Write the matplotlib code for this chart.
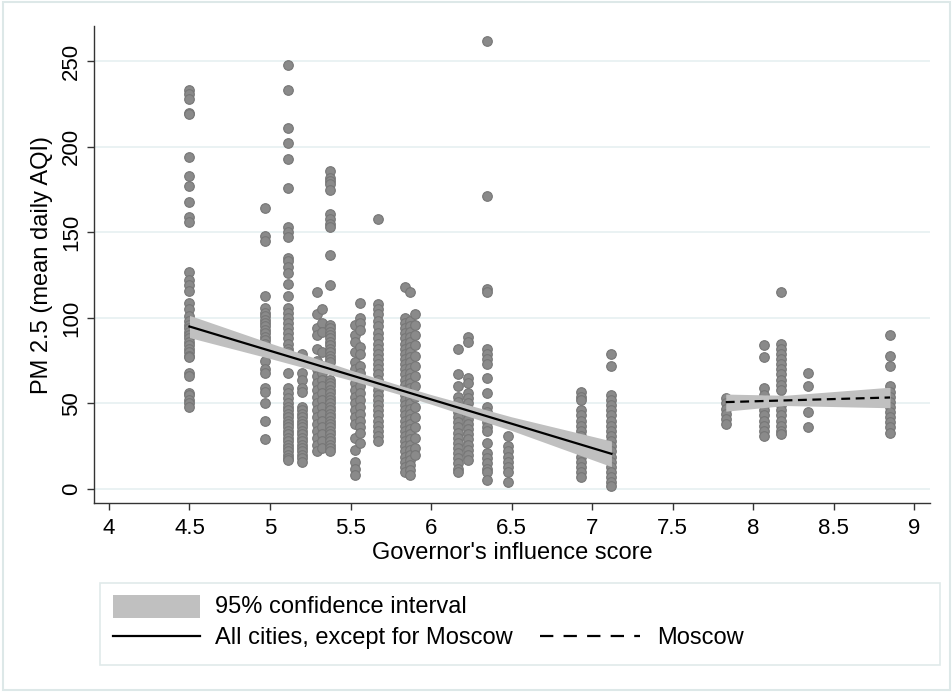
import matplotlib
matplotlib.use("Agg")
import matplotlib.pyplot as plt
from matplotlib.patches import Rectangle
from matplotlib.lines import Line2D
import numpy as np

plt.rcParams['font.family'] = ['Liberation Sans', 'DejaVu Sans']

# score of each city group (x) and PM 2.5 readings (y)
x_cols = [4.50, 4.97, 5.11, 5.20, 5.29, 5.32, 5.37, 5.53, 5.56, 5.67,
          5.84, 5.87, 5.90, 6.17, 6.23, 6.35, 6.48, 6.93, 7.12]
y_450 = [233, 231, 228, 220, 219, 194, 183, 177, 168, 159, 156, 127, 122, 119, 116,
         109, 105, 101, 98, 96, 94, 92, 90, 88, 86, 84, 82, 80, 78, 77, 68, 66, 56, 55, 52, 50, 48]
y_497 = [164, 148, 145, 113, 106, 103, 101, 99, 97, 95, 93, 91, 89, 87, 85, 83, 81,
         75, 70, 68, 59, 57, 50, 40, 29]
y_511 = [248, 233, 211, 202, 193, 176, 153, 150, 147, 135, 133, 130, 126, 120, 113,
         106, 103, 100, 97, 94, 91, 88, 85, 82, 80, 68, 59, 56, 53, 50, 48, 46, 44,
         42, 40, 38, 36, 34, 32, 30, 28, 26, 24, 22, 20, 18, 17]
y_520 = [79, 75, 68, 64, 59, 57, 48, 46, 44, 42, 40, 38, 36, 34, 32, 30, 28, 26, 24, 22, 20, 18, 16]
y_529 = [115, 102, 94, 90, 82, 75, 70, 66, 62, 58, 54, 50, 46, 42, 38, 34, 30, 26, 22]
y_532 = [105, 97, 92, 80, 72, 68, 64, 60, 56, 52, 48, 44, 40, 36, 32, 28, 24]
y_537 = [186, 182, 180, 178, 175, 161, 158, 155, 153, 137, 119, 96, 94, 92, 90, 88, 86,
         84, 82, 80, 78, 76, 74, 64, 62, 60, 58, 56, 54, 52, 50, 48, 46, 44, 42, 40,
         38, 36, 34, 32, 30, 28, 26, 24, 22]
y_553 = [96, 90, 86, 80, 74, 70, 66, 62, 58, 54, 50, 46, 42, 38, 30, 23, 16, 12, 8]
y_556 = [109, 100, 97, 93, 83, 79, 72, 68, 64, 60, 56, 52, 48, 44, 40, 36, 33, 27]
y_567 = [158, 108, 105, 102, 98, 95, 91, 88, 85, 82, 79, 76, 73, 70, 67, 64, 61, 58,
         55, 52, 49, 46, 43, 40, 37, 34, 31, 28]
y_584 = [118, 100, 97, 94, 91, 88, 85, 82, 79, 76, 73, 70, 67, 64, 61, 58, 55, 52,
         49, 46, 43, 40, 37, 34, 31, 28, 25, 22, 19, 16, 13, 10]
y_587 = [115, 98, 95, 92, 89, 86, 83, 80, 77, 74, 71, 68, 65, 62, 59, 56, 53, 50,
         47, 44, 41, 38, 35, 32, 29, 26, 23, 20, 17, 14, 11, 8]
y_590 = [102, 96, 90, 84, 78, 72, 66, 60, 54, 48, 42, 36, 30, 24, 20]
y_617 = [82, 67, 60, 54, 51, 48, 45, 42, 39, 36, 33, 30, 27, 24, 21, 18, 15, 12, 10]
y_623 = [89, 86, 65, 62, 56, 53, 50, 47, 44, 41, 38, 35, 32, 29, 26, 23, 20, 17]
y_635 = [262, 171, 117, 115, 82, 79, 76, 73, 65, 56, 48, 45, 42, 39, 36, 34, 27, 21,
         18, 15, 12, 10, 5]
y_648 = [31, 25, 22, 19, 16, 13, 10, 4]
y_693 = [57, 54, 52, 46, 43, 40, 37, 34, 31, 28, 25, 22, 19, 16, 13, 10, 7]
y_712 = [79, 72, 55, 52, 49, 46, 43, 40, 37, 34, 31, 28, 25, 22, 19, 16, 13, 10, 7, 4, 2]
y_cols = [y_450, y_497, y_511, y_520, y_529, y_532, y_537, y_553, y_556, y_567,
          y_584, y_587, y_590, y_617, y_623, y_635, y_648, y_693, y_712]

# Moscow
msk_x = [7.83, 8.07, 8.17, 8.34, 8.85]
msk_783 = [53, 50, 47, 44, 41, 38]
msk_807 = [84, 77, 59, 55, 52, 49, 46, 43, 40, 37, 34, 31]
msk_817 = [115, 85, 82, 79, 76, 73, 70, 67, 64, 61, 58, 52, 49, 46, 43, 40, 37, 34, 32]
msk_834 = [68, 60, 52, 45, 36]
msk_885 = [90, 78, 72, 60, 57, 54, 51, 48, 45, 42, 39, 36, 33]
msk_cols = [msk_783, msk_807, msk_817, msk_834, msk_885]

# fitted lines and 95% CI
fit_x = [4.5, 5.0, 5.5, 5.8, 6.0, 6.5, 7.12]
fit_y = [95.0, 80.8, 66.6, 58.1, 52.4, 38.2, 20.6]
fit_lo = [88.5, 76.3, 63.6, 55.4, 49.6, 34.2, 13.1]
fit_hi = [101.5, 85.3, 69.6, 60.8, 55.2, 42.2, 28.1]
mfit_x = [7.83, 8.2, 8.85]
mfit_y = [50.8, 51.8, 53.5]
mfit_lo = [45.5, 48.8, 47.5]
mfit_hi = [55.5, 54.8, 59.5]

fig = plt.figure(figsize=(9.53, 6.92), dpi=100)
fig.patches.append(Rectangle((0.003, 0.003), 0.994, 0.994, transform=fig.transFigure,
                             fill=False, edgecolor='#dde8e8', lw=1.5))
ax = fig.add_axes([0.0986, 0.273, 0.8774, 0.689])

pt = dict(s=48, facecolor='#8a8a8a', edgecolor='#767676', linewidths=0.8, zorder=2)
for x, ys in zip(x_cols, y_cols):
    ax.scatter([x] * len(ys), ys, **pt)
for x, ys in zip(msk_x, msk_cols):
    ax.scatter([x] * len(ys), ys, **pt)

ax.fill_between(fit_x, fit_lo, fit_hi, color='#c0c0c0', lw=0, zorder=3)
ax.plot(fit_x, fit_y, color='black', lw=1.6, zorder=4)
ax.fill_between(mfit_x, mfit_lo, mfit_hi, color='#c0c0c0', lw=0, zorder=3)
ax.plot(mfit_x, mfit_y, color='black', lw=1.6, ls=(0, (4, 2.5)), zorder=4)

ax.set_xlim(3.907, 9.099)
ax.set_ylim(-8.2, 270.4)
ax.set_xticks(np.arange(4, 9.01, 0.5))
ax.set_xticklabels(['4', '4.5', '5', '5.5', '6', '6.5', '7', '7.5', '8', '8.5', '9'])
ax.set_yticks([0, 50, 100, 150, 200, 250])
ax.grid(axis='y', color='#e8f1f2', lw=1.3, zorder=0)
ax.set_axisbelow(True)
for s in ['top', 'right']:
    ax.spines[s].set_visible(False)
for s in ['left', 'bottom']:
    ax.spines[s].set_color('#333333')
    ax.spines[s].set_linewidth(1.0)
ax.tick_params(axis='both', colors='#333333', length=5, width=1.0, labelsize=16,
               labelcolor='black')
ax.tick_params(axis='x', pad=6)
plt.setp(ax.get_yticklabels(), rotation=90, va='center')
ax.set_xlabel("Governor's influence score", fontsize=17, labelpad=2)
ax.set_ylabel("PM 2.5 (mean daily AQI)", fontsize=17, labelpad=6)

# legend box drawn in figure coordinates
fig.patches.append(Rectangle((100 / 953, 1 - 665 / 692), 840 / 953, 82 / 692,
                             transform=fig.transFigure, fill=False,
                             edgecolor='#e0eaea', lw=1.2))
fig.patches.append(Rectangle((113 / 953, 1 - 618 / 692), 87 / 953, 23 / 692,
                             transform=fig.transFigure, color='#c0c0c0', lw=0))
fig.lines.append(Line2D([113 / 953, 200 / 953], [1 - 636 / 692] * 2,
                        transform=fig.transFigure, color='black', lw=1.6))
fig.lines.append(Line2D([540 / 953, 640 / 953], [1 - 636 / 692] * 2,
                        transform=fig.transFigure, color='black', lw=1.6,
                        ls=(0, (6, 4.6))))
fig.text(215 / 953, 1 - 607 / 692, '95% confidence interval', fontsize=17, va='center')
fig.text(215 / 953, 1 - 638 / 692, 'All cities, except for Moscow', fontsize=17, va='center')
fig.text(657 / 953, 1 - 638 / 692, 'Moscow', fontsize=17, va='center')

fig.savefig('out.png', dpi=100)
